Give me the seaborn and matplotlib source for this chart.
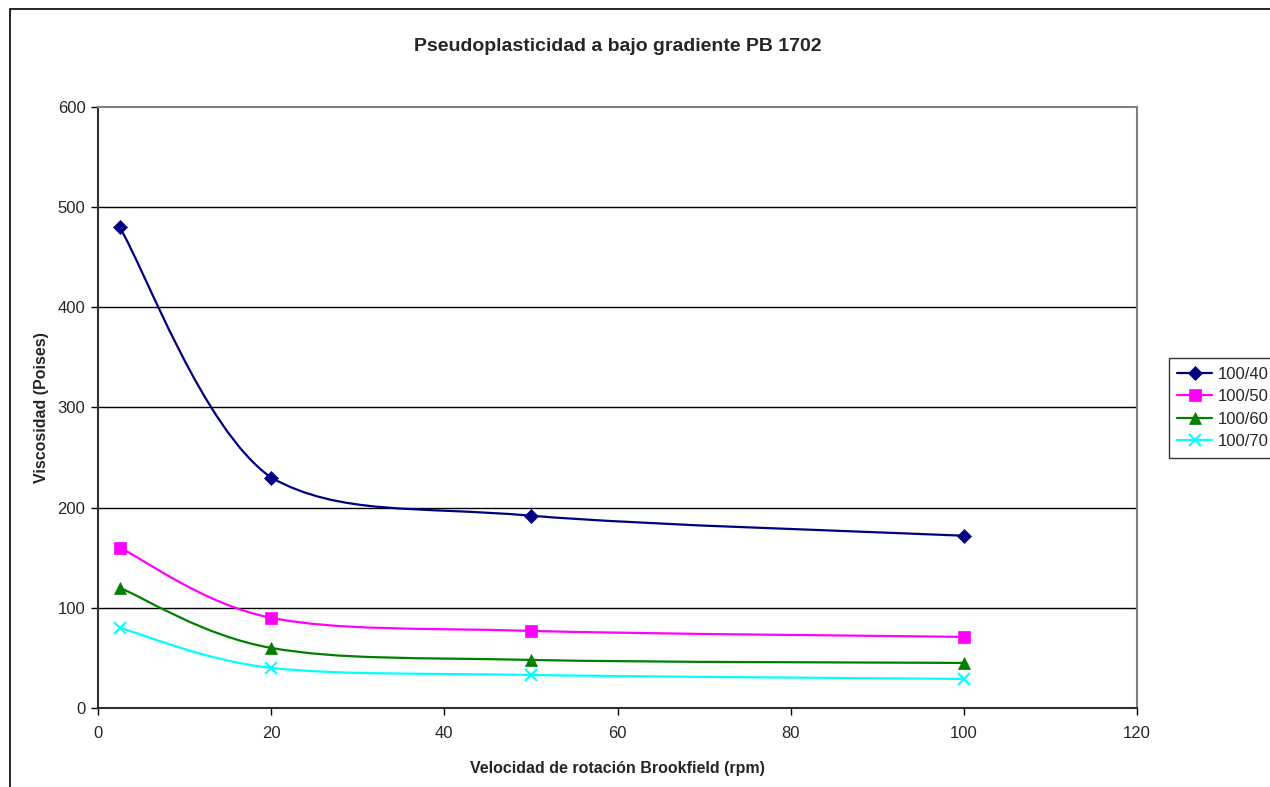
import matplotlib
matplotlib.use("Agg")
import matplotlib.pyplot as plt
import seaborn as sns
import numpy as np
import pandas as pd
from matplotlib.path import Path
from matplotlib.patches import PathPatch, Rectangle
from matplotlib.lines import Line2D

# data
rpm = [2.5, 20, 50, 100]
visc_40 = [480, 230, 192, 172]
visc_50 = [160, 90, 77, 71]
visc_60 = [120, 60, 48, 45]
visc_70 = [80, 40, 33, 29]
series_names = ["100/40", "100/50", "100/60", "100/70"]

series = [visc_40, visc_50, visc_60, visc_70]
colors = ["#000080", "#FF00FF", "#008000", "#00FFFF"]
markers = ["D", "s", "^", "x"]
msizes = [7, 9, 8, 9]

df = pd.DataFrame({
    "rpm": rpm * 4,
    "visc": visc_40 + visc_50 + visc_60 + visc_70,
    "serie": sum([[n] * len(rpm) for n in series_names], []),
})

sns.set_style("white")
plt.rcParams['font.family'] = ['Liberation Sans', 'DejaVu Sans']

fig = plt.figure(figsize=(12.7, 7.87), dpi=100)
ax = fig.add_axes([98 / 1270, 79 / 787, 1039 / 1270, 601 / 787])

ax.set_xlim(0, 120)
ax.set_ylim(0, 600)
ax.set_xticks(range(0, 121, 20))
ax.set_yticks(range(0, 601, 100))
ax.tick_params(axis="both", labelsize=12, direction="out", length=5,
               width=1, color="black", bottom=True, left=True)
ax.tick_params(axis="x", pad=8)
ax.tick_params(axis="y", pad=4)

for y in range(100, 600, 100):
    ax.axhline(y, color="black", lw=1, zorder=1)

for side in ["top", "right"]:
    ax.spines[side].set_color("#808080")
    ax.spines[side].set_linewidth(1.5)
for side in ["left", "bottom"]:
    ax.spines[side].set_color("#303030")
    ax.spines[side].set_linewidth(1.5)


def smooth_patch(xs, ys, color):
    # Excel-like smoothed line: bezier segments built in display space
    pts = ax.transData.transform(np.column_stack([xs, ys]))
    n = len(pts)
    verts = [pts[0]]
    codes = [Path.MOVETO]
    for i in range(n - 1):
        p0 = pts[i - 1] if i > 0 else pts[i]
        p1 = pts[i]
        p2 = pts[i + 1]
        p3 = pts[i + 2] if i + 2 < n else pts[i + 1]
        c1 = p1 + (p2 - p0) / 6
        c2 = p2 - (p3 - p1) / 6
        lo, hi = min(p1[1], p2[1]), max(p1[1], p2[1])
        c1[1] = np.clip(c1[1], lo, hi)
        c2[1] = np.clip(c2[1], lo, hi)
        verts += [c1, c2, p2]
        codes += [Path.CURVE4] * 3
    verts = ax.transData.inverted().transform(np.array(verts))
    patch = PathPatch(Path(verts, codes), facecolor="none", edgecolor=color,
                      lw=1.6, zorder=3, clip_on=False)
    ax.add_patch(patch)


for name, vals, c, m, ms in zip(series_names, series, colors, markers, msizes):
    smooth_patch(rpm, vals, c)
    sub = df[df["serie"] == name]
    sns.lineplot(data=sub, x="rpm", y="visc", ax=ax, color=c, marker=m,
                 markersize=ms, linestyle="none", markeredgecolor=c,
                 markeredgewidth=1.5 if m == "x" else 0.5, zorder=4,
                 legend=False)

ax.set_xlim(0, 120)
ax.set_ylim(0, 600)

ax.set_title("Pseudoplasticidad a bajo gradiente PB 1702", fontsize=14,
             fontweight="bold", pad=40)
ax.set_xlabel("Velocidad de rotación Brookfield (rpm)", fontsize=11.5,
              fontweight="bold", labelpad=14)
ax.set_ylabel("Viscosidad (Poises)", fontsize=11.5, fontweight="bold",
              labelpad=6)

handles = [Line2D([0], [0], color=c, marker=m, markersize=ms, lw=1.6,
                  markeredgecolor=c, markeredgewidth=1.5 if m == "x" else 0.5)
           for c, m, ms in zip(colors, markers, msizes)]
leg = fig.legend(handles, series_names, loc="center left",
                 bbox_to_anchor=(1169 / 1270, 1 - 408 / 787), fontsize=12,
                 frameon=True, fancybox=False, edgecolor="black",
                 handlelength=2.1, handletextpad=0.3, borderpad=0.5,
                 labelspacing=0.45, borderaxespad=0)
leg.get_frame().set_linewidth(1)

# outer chart border
fig.patches.append(Rectangle((10 / 1270, -0.05), 1.1, 1 - 9 / 787 + 0.05,
                             transform=fig.transFigure, fill=False,
                             edgecolor="black", lw=1.2))

fig.savefig("out.png", dpi=100)
